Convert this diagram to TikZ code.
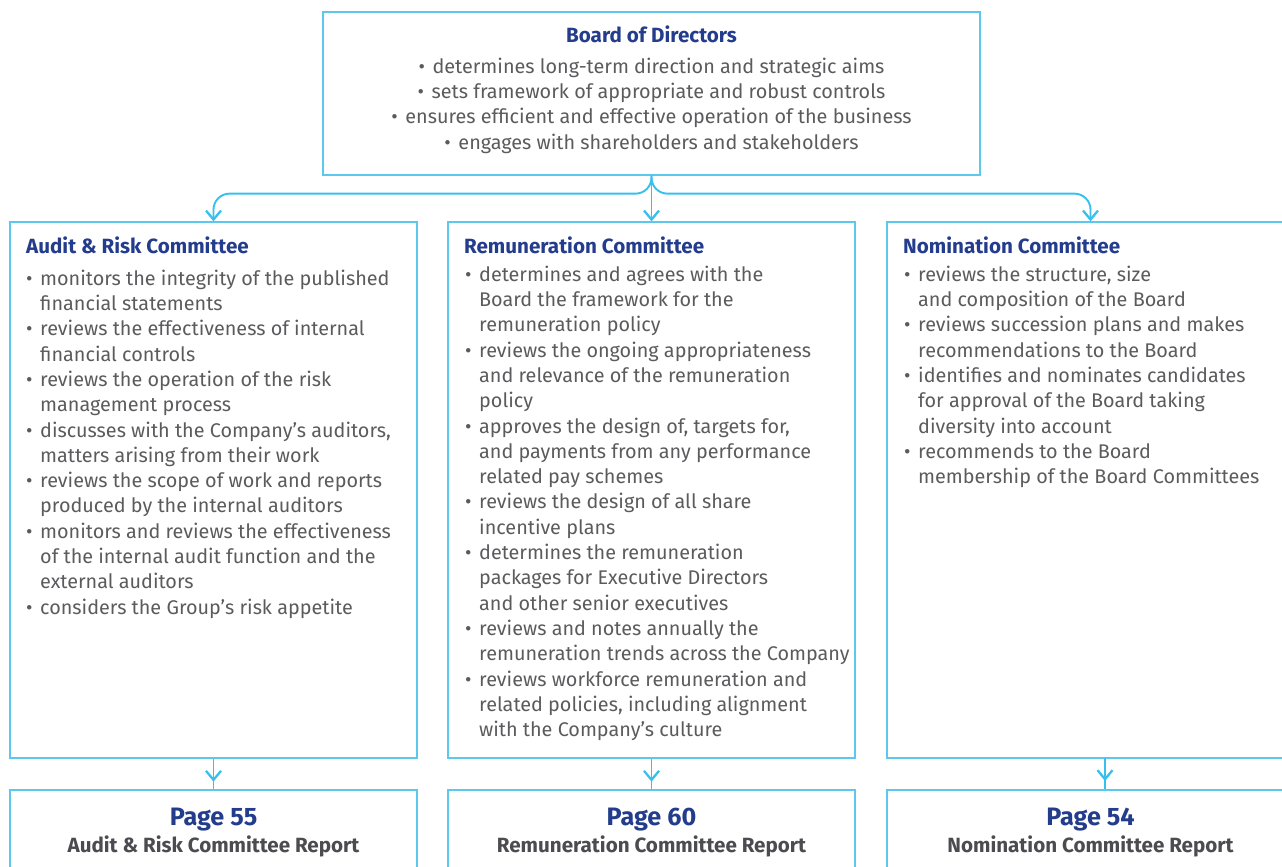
\documentclass[tikz,border=0pt]{standalone}
\usepackage{fontspec}
\setmainfont{Fira Sans}
\usetikzlibrary{arrows.meta,decorations.markings}
\definecolor{framecol}{HTML}{5CC8EE}
\definecolor{conncol}{HTML}{35C0EE}
\definecolor{headblue}{HTML}{233C8C}
\definecolor{bodygray}{HTML}{5B5B5E}
\definecolor{repgray}{HTML}{4B4B50}
\newcommand{\bul}{\makebox[14pt][l]{•}}
\newcommand{\ind}{\hspace*{14pt}}
\newcommand{\firstline}{\rule{0pt}{18pt}}
\begin{document}
\begin{tikzpicture}[x=1pt,y=-1pt,
  panel/.style={draw=framecol,line width=1.3pt,inner sep=0pt},
  conn/.style={draw=conncol,line width=1.9pt},
  tip/.style={-{Straight Barb[length=9pt,width=15pt,line width=2.3pt]}},
  midtip/.style={postaction={decorate},decoration={markings,
      mark=at position 23pt with {\arrow{Straight Barb[length=9pt,width=15pt,line width=2.3pt]}}}},
  head/.style={font=\bfseries\fontsize{20.6}{24}\selectfont,text=headblue,inner sep=0pt},
  body/.style={font=\fontsize{19.8}{25.3}\selectfont,text=bodygray,inner sep=0pt,align=left},
  pagehead/.style={font=\bfseries\fontsize{25.2}{29}\selectfont,text=headblue,inner sep=0pt},
  reptext/.style={font=\bfseries\fontsize{20.6}{24}\selectfont,text=repgray,inner sep=0pt}]
\useasboundingbox (0,0) rectangle (1282,867);
\clip (0,0) rectangle (1282,867);

% frames
\node[panel,minimum width=657pt,minimum height=163pt] (board) at (651.5,93.5) {};
\node[panel,minimum width=407pt,minimum height=536pt] (audit) at (213.5,490) {};
\node[panel,minimum width=407pt,minimum height=536pt] (remun) at (651.5,490) {};
\node[panel,minimum width=407pt,minimum height=536pt] (nomin) at (1090.5,490) {};
\node[panel,minimum width=407pt,minimum height=100pt] (auditrep) at (213.5,840) {};
\node[panel,minimum width=407pt,minimum height=100pt] (remunrep) at (651.5,840) {};
\node[panel,minimum width=407pt,minimum height=100pt] (nominrep) at (1090.5,840) {};

% board of directors
\node[head,anchor=base] (boardtitle) at (651.5,43) {Board of Directors};
\node[body,align=center,anchor=north] (boardlist) at (651.5,55) {%
\firstline\bul determines long-term direction and strategic aims\\
\bul sets framework of appropriate and robust controls\\
\bul ensures efficient and effective operation of the business\\
\bul engages with shareholders and stakeholders};

% committees
\node[head,anchor=base west] (audittitle) at (26,253) {Audit \& Risk Committee};
\node[body,anchor=north west] (auditlist) at (26,267) {%
\firstline\bul monitors the integrity of the published\\
\ind financial statements\\
\bul reviews the effectiveness of internal\\
\ind financial controls\\
\bul reviews the operation of the risk\\
\ind management process\\
\bul discusses with the Company’s auditors,\\
\ind matters arising from their work\\
\bul reviews the scope of work and reports\\
\ind produced by the internal auditors\\
\bul monitors and reviews the effectiveness\\
\ind of the internal audit function and the\\
\ind external auditors\\
\bul considers the Group’s risk appetite};

\node[head,anchor=base west] (remuntitle) at (464,253) {Remuneration Committee};
\node[body,anchor=north west] (remunlist) at (465,263) {%
\firstline\bul determines and agrees with the\\
\ind Board the framework for the\\
\ind remuneration policy\\
\bul reviews the ongoing appropriateness\\
\ind and relevance of the remuneration\\
\ind policy\\
\bul approves the design of, targets for,\\
\ind and payments from any performance\\
\ind related pay schemes\\
\bul reviews the design of all share\\
\ind incentive plans\\
\bul determines the remuneration\\
\ind packages for Executive Directors\\
\ind and other senior executives\\
\bul reviews and notes annually the\\
\ind remuneration trends across the Company\\
\bul reviews workforce remuneration and\\
\ind related policies, including alignment\\
\ind with the Company’s culture};

\node[head,anchor=base west] (nomintitle) at (903,253) {Nomination Committee};
\node[body,anchor=north west] (nominlist) at (904,263) {%
\firstline\bul reviews the structure, size\\
\ind and composition of the Board\\
\bul reviews succession plans and makes\\
\ind recommendations to the Board\\
\bul identifies and nominates candidates\\
\ind for approval of the Board taking\\
\ind diversity into account\\
\bul recommends to the Board\\
\ind membership of the Board Committees};

% report references
\node[pagehead,anchor=base] (auditpage) at (213.5,825) {Page 55};
\node[reptext,anchor=base] (auditname) at (213.5,852) {Audit \& Risk Committee Report};
\node[pagehead,anchor=base] (remunpage) at (651.5,825) {Page 60};
\node[reptext,anchor=base] (remunname) at (651.5,852) {Remuneration Committee Report};
\node[pagehead,anchor=base] (nominpage) at (1090.5,825) {Page 54};
\node[reptext,anchor=base] (nominname) at (1090.5,852) {Nomination Committee Report};

% board to committees
\draw[conn,tip,rounded corners=16pt] (board.south) -- ++(0,18) -| (audit.north);
\draw[conn,tip,rounded corners=16pt] (board.south) -- ++(0,18) -| (nomin.north);
\draw[conn,tip] (board.south) -- (remun.north);

% committees to reports
\coordinate (nomtap) at (1105,758);
\draw[conn,midtip] (audit.south) -- (auditrep.north);
\draw[conn,midtip] (remun.south) -- (remunrep.north);
\draw[conn,midtip] (nomtap) -- (nomtap |- nominrep.north);
\end{tikzpicture}
\end{document}
